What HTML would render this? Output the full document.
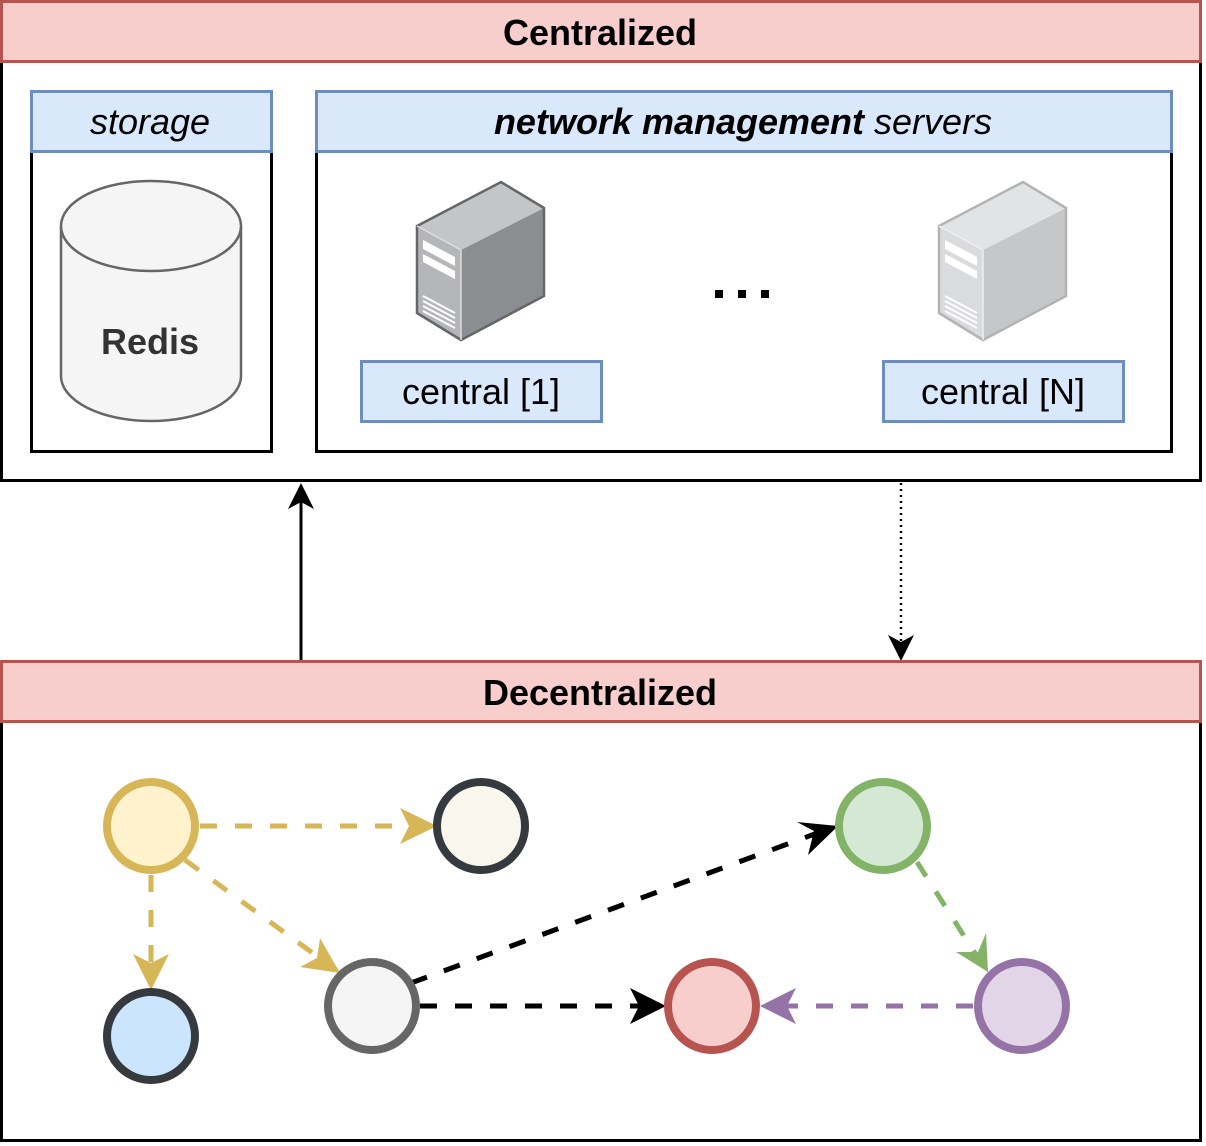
<!DOCTYPE html>
<html><head><meta charset="utf-8"><style>
html,body{margin:0;padding:0;background:#fff;}
svg{display:block;font-family:"Liberation Sans",sans-serif;}
</style></head><body>
<svg width="1206" height="1146" viewBox="0 0 1206 1146" xmlns="http://www.w3.org/2000/svg">
<!-- Centralized -->
<rect x="1.5" y="1.5" width="1199" height="479" fill="#fff" stroke="#000" stroke-width="3"/>
<rect x="1.5" y="1.5" width="1199" height="60" fill="#f8cecc" stroke="#b85450" stroke-width="3"/>
<text x="600" y="45" text-anchor="middle" font-size="36" font-weight="bold">Centralized</text>
<!-- storage -->
<rect x="31.5" y="151.5" width="240" height="300" fill="#fff" stroke="#000" stroke-width="3"/>
<rect x="31.5" y="91.5" width="240" height="60" fill="#dae8fc" stroke="#6c8ebf" stroke-width="3"/>
<text x="150" y="134" text-anchor="middle" font-size="36" font-style="italic">storage</text>
<path d="M61,226 L61,376 A90,45 0 0 0 241,376 L241,226" fill="#f5f5f5" stroke="#666" stroke-width="2.5"/>
<ellipse cx="151" cy="226" rx="90" ry="45" fill="#f5f5f5" stroke="#666" stroke-width="2.5"/>
<text x="150" y="354" text-anchor="middle" font-size="36" font-weight="bold" fill="#333">Redis</text>
<!-- network -->
<rect x="316.5" y="151.5" width="855" height="300" fill="#fff" stroke="#000" stroke-width="3"/>
<rect x="316.5" y="91.5" width="855" height="60" fill="#dae8fc" stroke="#6c8ebf" stroke-width="3"/>
<text x="743" y="134" text-anchor="middle" font-size="36"><tspan font-weight="bold" font-style="italic">network management</tspan><tspan font-style="italic"> servers</tspan></text>
<!-- server 1 -->
<g transform="translate(417,182)">
 <polygon points="0,44 84,0 127,26 44,68" fill="#c4c5c7"/>
 <polygon points="0,44 44,68 44,158 0,131" fill="#b5b6b8"/>
 <polygon points="44,68 127,26 127,114 44,158" fill="#8c8d90"/>
 <polygon points="0,44 84,0 127,26 127,114 44,158 0,131" fill="none" stroke="#666" stroke-width="2.5"/>
 <line x1="0" y1="44" x2="44" y2="68" stroke="#ddd" stroke-width="1.5"/>
 <line x1="44" y1="68" x2="44" y2="158" stroke="#ddd" stroke-width="1.5"/>
 <polygon points="6,58 38,75 38,84 6,67" fill="#fff"/>
 <polygon points="6,72 38,89 38,97 6,80" fill="#fff"/>
 <g stroke="#fff" stroke-width="2"><line x1="6" y1="114" x2="38" y2="131"/><line x1="6" y1="119" x2="38" y2="136"/><line x1="6" y1="124" x2="38" y2="141"/><line x1="6" y1="129" x2="38" y2="146"/></g>
</g>
<!-- server N -->
<g transform="translate(939,182)">
 <polygon points="0,44 84,0 127,26 44,68" fill="#e2e3e4"/>
 <polygon points="0,44 44,68 44,158 0,131" fill="#dadbdc"/>
 <polygon points="44,68 127,26 127,114 44,158" fill="#c6c7c8"/>
 <polygon points="0,44 84,0 127,26 127,114 44,158 0,131" fill="none" stroke="#b3b3b3" stroke-width="2.5"/>
 <line x1="0" y1="44" x2="44" y2="68" stroke="#eee" stroke-width="1.5"/>
 <line x1="44" y1="68" x2="44" y2="158" stroke="#eee" stroke-width="1.5"/>
 <polygon points="6,58 38,75 38,84 6,67" fill="#fff"/>
 <polygon points="6,72 38,89 38,97 6,80" fill="#fff"/>
 <g stroke="#fff" stroke-width="2"><line x1="6" y1="114" x2="38" y2="131"/><line x1="6" y1="119" x2="38" y2="136"/><line x1="6" y1="124" x2="38" y2="141"/><line x1="6" y1="129" x2="38" y2="146"/></g>
</g>
<g fill="#000"><rect x="715" y="290" width="8" height="8"/><rect x="738" y="290" width="8" height="8"/><rect x="761" y="290" width="8" height="8"/></g>
<rect x="361.5" y="361.5" width="240" height="60" fill="#dae8fc" stroke="#6c8ebf" stroke-width="3"/>
<text x="481" y="404" text-anchor="middle" font-size="36">central [1]</text>
<rect x="883.5" y="361.5" width="240" height="60" fill="#dae8fc" stroke="#6c8ebf" stroke-width="3"/>
<text x="1003" y="404" text-anchor="middle" font-size="36">central [N]</text>
<!-- connectors between -->
<line x1="301" y1="661" x2="301" y2="500" stroke="#000" stroke-width="3"/>
<polygon points="301,483 288,509 301,502 314,509" fill="#000"/>
<line x1="901" y1="483" x2="901" y2="645" stroke="#000" stroke-width="2.5" stroke-dasharray="2 4"/>
<polygon points="901,661 888,635 901,642 914,635" fill="#000"/>
<!-- Decentralized -->
<rect x="1.5" y="661.5" width="1199" height="479" fill="#fff" stroke="#000" stroke-width="3"/>
<rect x="1.5" y="661.5" width="1199" height="60" fill="#f8cecc" stroke="#b85450" stroke-width="3"/>
<text x="600" y="705" text-anchor="middle" font-size="36" font-weight="bold">Decentralized</text>
<!-- edges -->
<g stroke-width="5" stroke-dasharray="17 18" fill="none">
 <line x1="200" y1="826" x2="420" y2="826" stroke="#d6b656"/>
 <line x1="151" y1="875" x2="151" y2="975" stroke="#d6b656"/>
 <line x1="185" y1="860" x2="325" y2="962" stroke="#d6b656"/>
 <line x1="411" y1="983" x2="820" y2="832" stroke="#000"/>
 <line x1="420" y1="1006" x2="648" y2="1006" stroke="#000"/>
 <line x1="917" y1="862" x2="978" y2="958" stroke="#82b366"/>
 <line x1="973" y1="1006" x2="778" y2="1006" stroke="#9673a6"/>
</g>
<polygon points="437,826 400,808 409,826 400,844" fill="#d6b656"/>
<polygon points="151,990 133,954 151,963 169,954" fill="#d6b656"/>
<polygon points="340,973 300,967 317,958 320,938" fill="#d6b656"/>
<polygon points="838,826 797,822 814,831 808,855" fill="#000"/>
<polygon points="666,1006 630,988 639,1006 630,1024" fill="#000"/>
<polygon points="988,972 986,933 978,952 956,952" fill="#82b366"/>
<polygon points="760,1006 796,988 787,1006 796,1024" fill="#9673a6"/>
<!-- nodes -->
<g stroke-width="8">
 <circle cx="151" cy="826" r="44" fill="#fff2cc" stroke="#d6b656"/>
 <circle cx="481" cy="826" r="44" fill="#f9f7ed" stroke="#36393d"/>
 <circle cx="151" cy="1036" r="44" fill="#cce5ff" stroke="#36393d"/>
 <circle cx="372" cy="1006" r="44" fill="#f5f5f5" stroke="#666"/>
 <circle cx="712" cy="1006" r="44" fill="#f8cecc" stroke="#b85450"/>
 <circle cx="883" cy="826" r="44" fill="#d5e8d4" stroke="#82b366"/>
 <circle cx="1022" cy="1006" r="44" fill="#e1d5e7" stroke="#9673a6"/>
</g>
</svg>
</body></html>
